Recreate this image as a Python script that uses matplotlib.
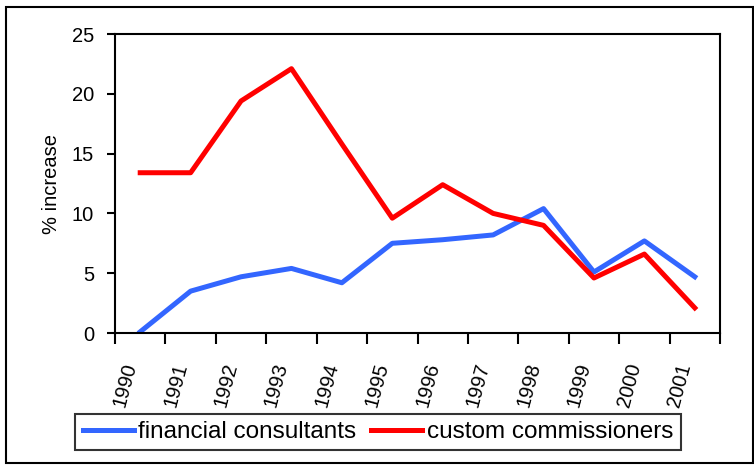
import matplotlib.pyplot as plt
import matplotlib.patches as patches
from matplotlib.ticker import FixedLocator

plt.rcParams['font.family'] = ['Liberation Sans', 'DejaVu Sans']

years = ["1990", "1991", "1992", "1993", "1994", "1995",
         "1996", "1997", "1998", "1999", "2000", "2001"]
financial = [0.1, 3.5, 4.7, 5.4, 4.2, 7.5, 7.8, 8.2, 10.4, 5.1, 7.7, 4.7]
custom = [13.4, 13.4, 19.4, 22.1, 15.8, 9.6, 12.4, 10.0, 9.0, 4.6, 6.6, 2.1]

fig = plt.figure(figsize=(7.54, 4.65), dpi=100)
ax = fig.add_axes([115/754, 1-333/465, 605/754, 299/465])

x = list(range(len(years)))
ax.plot(x, financial, color="#3366FF", lw=3.6, label="financial consultants")
ax.plot(x, custom, color="#FF0000", lw=3.6, label="custom commissioners")

ax.set_xlim(-0.5, len(years) - 0.5)
ax.set_ylim(0, 25)
ax.set_yticks([0, 5, 10, 15, 20, 25])
ax.set_xticks(x)
ax.set_xticklabels(years, rotation=75, ha="right", va="top", fontsize=14.5)
ax.xaxis.set_minor_locator(FixedLocator([i - 0.5 for i in range(len(years) + 1)]))
ax.tick_params(axis="x", which="major", length=0, pad=20)
ax.tick_params(axis="x", which="minor", length=8, width=1.5, direction="out")
ax.tick_params(axis="y", length=6, width=1.5, labelsize=14.5, pad=9)
ax.set_ylabel("% increase", fontsize=14.5, labelpad=8)
for s in ax.spines.values():
    s.set_linewidth(1.5)

leg = fig.legend(loc="center", bbox_to_anchor=(378/754, 1-432/465), ncol=2,
                 fontsize=17.5, frameon=True, fancybox=False, edgecolor="black",
                 handlelength=2.1, handletextpad=0.2, columnspacing=0.6,
                 borderpad=0.3, borderaxespad=0)
leg.get_frame().set_linewidth(1.5)

fig.patches.append(patches.Rectangle((6/754, 2/465), 747/754, 456/465, transform=fig.transFigure,
                                     fill=False, edgecolor="black", lw=1.5))

fig.savefig("out.png", dpi=100)
